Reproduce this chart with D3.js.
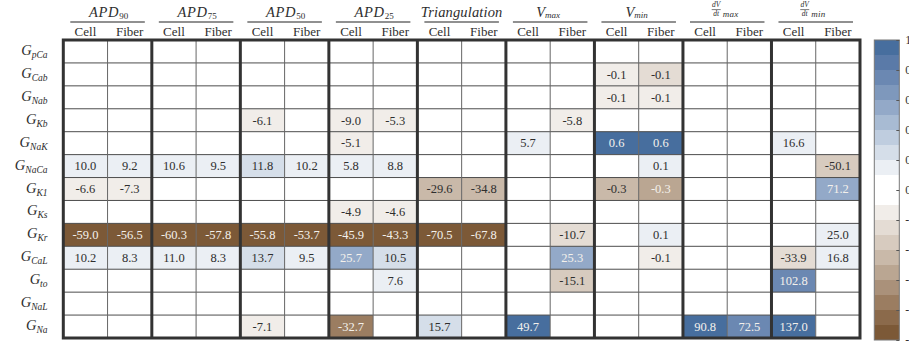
<!DOCTYPE html>
<html>
<head>
<meta charset="utf-8">
<script src="https://cdn.jsdelivr.net/npm/d3@7"></script>
<style>
  html, body { margin: 0; padding: 0; background: #fff; overflow: hidden; }
  svg { display: block; }
</style>
</head>
<body>
<svg id="chart" width="909" height="347"></svg>
<script>
// Conductances (rows, top to bottom)
const rows = ["pCa", "Cab", "Nab", "Kb", "NaK", "NaCa", "K1", "Ks", "Kr", "CaL", "to", "NaL", "Na"];
// Biomarker groups (column pairs, left to right)
const groups = ["APD90", "APD75", "APD50", "APD25", "Triangulation", "Vmax", "Vmin", "dVdtMax", "dVdtMin"];
const kinds = ["Cell", "Fiber"];

// Sensitivity values (%), one entry per row; null = not significant
//                 pCa   Cab   Nab   Kb    NaK   NaCa  K1    Ks    Kr     CaL   to    NaL   Na
const apd90Cell  = [null, null, null, null, null, 10.0, -6.6, null, -59.0, 10.2, null, null, null];
const apd90Fiber = [null, null, null, null, null, 9.2, -7.3, null, -56.5, 8.3, null, null, null];
const apd75Cell  = [null, null, null, null, null, 10.6, null, null, -60.3, 11.0, null, null, null];
const apd75Fiber = [null, null, null, null, null, 9.5, null, null, -57.8, 8.3, null, null, null];
const apd50Cell  = [null, null, null, -6.1, null, 11.8, null, null, -55.8, 13.7, null, null, -7.1];
const apd50Fiber = [null, null, null, null, null, 10.2, null, null, -53.7, 9.5, null, null, null];
const apd25Cell  = [null, null, null, -9.0, -5.1, 5.8, null, -4.9, -45.9, 25.7, null, null, -32.7];
const apd25Fiber = [null, null, null, -5.3, null, 8.8, null, -4.6, -43.3, 10.5, 7.6, null, null];
const triCell    = [null, null, null, null, null, null, -29.6, null, -70.5, null, null, null, 15.7];
const triFiber   = [null, null, null, null, null, null, -34.8, null, -67.8, null, null, null, null];
const vmaxCell   = [null, null, null, null, 5.7, null, null, null, null, null, null, null, 49.7];
const vmaxFiber  = [null, null, null, -5.8, null, null, null, null, -10.7, 25.3, -15.1, null, null];
const vminCell   = [null, -0.1, -0.1, null, 0.6, null, -0.29, null, null, null, null, null, null];
const vminFiber  = [null, -0.13, -0.1, null, 0.6, 0.1, -0.31, null, 0.1, -0.1, null, null, null];
const dvMaxCell  = [null, null, null, null, null, null, null, null, null, null, null, null, 90.8];
const dvMaxFiber = [null, null, null, null, null, null, null, null, null, null, null, null, 72.5];
const dvMinCell  = [null, null, null, null, 16.6, null, null, null, null, -33.9, 102.8, null, 137.0];
const dvMinFiber = [null, null, null, null, null, -50.1, 71.2, null, 25.0, 16.8, null, null, null];

const groupValues = [
  [apd90Cell, apd90Fiber], [apd75Cell, apd75Fiber], [apd50Cell, apd50Fiber],
  [apd25Cell, apd25Fiber], [triCell, triFiber], [vmaxCell, vmaxFiber],
  [vminCell, vminFiber], [dvMaxCell, dvMaxFiber], [dvMinCell, dvMinFiber]
];

// Colour bar tick labels
const cbTicks = [1, 0.8, 0.6, 0.4, 0.2, 0, -0.2, -0.4, -0.6, -0.8, -1];

// Discrete diverging palette: 9 browns (dark -> light), white, 9 blues (light -> dark)
const browns = ["#7c5937", "#8b6a4b", "#9b7d61", "#aa917a", "#baa692", "#c9b9a9", "#d7cbbf", "#e4dcd4", "#f1ede9"];
const blues  = ["#ebeff4", "#d5dee9", "#bfcddf", "#a8bbd3", "#93a9c8", "#7e98bc", "#6b88b2", "#5a7aa8", "#476e9e"];
const color = d3.scaleThreshold()
  .domain([-0.9, -0.8, -0.7, -0.6, -0.5, -0.4, -0.3, -0.2, -0.1, 0.1, 0.2, 0.3, 0.4, 0.5, 0.6, 0.7, 0.8, 0.9])
  .range([...browns, "#ffffff", ...blues]);

const SERIF = "Liberation Serif";
const INK = "#2e2e2e";

// Flatten to cells, normalising each biomarker group by its largest magnitude
const cells = [];
groupValues.forEach((pair, g) => {
  const maxAbs = d3.max(pair.flat(), v => v == null ? 0 : Math.abs(v));
  pair.forEach((arr, k) => {
    arr.forEach((v, r) => {
      cells.push({ col: g * 2 + k, row: rows[r], value: v, norm: v == null ? 0 : v / maxAbs });
    });
  });
});

const svg = d3.select("#chart");
const tblLeft = 63.3, tblRight = 860, tblTop = 40, tblBottom = 338;

const x = d3.scaleBand().domain(d3.range(groups.length * 2)).range([tblLeft, tblRight]);
const y = d3.scaleBand().domain(rows).range([tblTop, tblBottom]);

// Heatmap cells
svg.append("g").selectAll("rect").data(cells).join("rect")
  .attr("x", d => x(d.col))
  .attr("y", d => y(d.row))
  .attr("width", x.bandwidth())
  .attr("height", y.bandwidth())
  .attr("fill", d => d.value == null ? "#ffffff" : color(d.norm));

// Value labels
svg.append("g").selectAll("text").data(cells.filter(d => d.value != null)).join("text")
  .attr("x", d => x(d.col) + x.bandwidth() / 2)
  .attr("y", d => y(d.row) + y.bandwidth() / 2 + 4.3)
  .attr("text-anchor", "middle")
  .attr("font-family", SERIF)
  .attr("font-size", 12.5)
  .attr("fill", d => Math.abs(d.norm) > 0.5 ? "#f4f1ec" : INK)
  .text(d => d.value.toFixed(1));

// Thin grid lines
const grid = svg.append("g").attr("stroke", "#4d4d4d").attr("stroke-width", 1);
grid.selectAll("line.h").data(rows.slice(1)).join("line")
  .attr("class", "h")
  .attr("x1", tblLeft).attr("x2", tblRight)
  .attr("y1", d => y(d)).attr("y2", d => y(d));
grid.selectAll("line.v").data(groups.map((g, i) => i * 2 + 1)).join("line")
  .attr("class", "v")
  .attr("y1", tblTop).attr("y2", tblBottom)
  .attr("x1", d => x(d)).attr("x2", d => x(d))
  .attr("stroke", "#666");

// Thick group separators and frame
const frame = svg.append("g").attr("stroke", "#333").attr("stroke-width", 3).attr("fill", "none");
frame.selectAll("line").data(d3.range(1, groups.length)).join("line")
  .attr("y1", tblTop).attr("y2", tblBottom)
  .attr("x1", d => x(d * 2)).attr("x2", d => x(d * 2));
frame.append("rect")
  .attr("x", tblLeft).attr("y", tblTop)
  .attr("width", tblRight - tblLeft).attr("height", tblBottom - tblTop);

// Row labels: G with italic subscripts
svg.append("g").selectAll("text").data(rows).join("text")
  .attr("x", 47.5)
  .attr("y", d => y(d) + y.bandwidth() / 2 + 3.5)
  .attr("text-anchor", "end")
  .attr("font-family", SERIF)
  .attr("font-style", "italic")
  .attr("fill", INK)
  .each(function (d) {
    const t = d3.select(this);
    t.append("tspan").attr("font-size", 14.5).text("G");
    t.append("tspan").attr("font-size", 9.5).attr("dy", 3).text(d);
  });

// Column headers
const header = svg.append("g").attr("fill", INK).attr("font-family", SERIF);
groups.forEach((g, i) => {
  const x0 = x(i * 2), x1 = x(i * 2 + 1) + x.bandwidth();
  const gc = (x0 + x1) / 2;

  header.append("line")
    .attr("x1", x0 + 7).attr("x2", x1 - 7)
    .attr("y1", 22).attr("y2", 22)
    .attr("stroke", "#222").attr("stroke-width", 1.1);

  kinds.forEach((k, j) => {
    header.append("text")
      .attr("x", x(i * 2 + j) + x.bandwidth() / 2)
      .attr("y", 35.5)
      .attr("text-anchor", "middle")
      .attr("font-size", 13)
      .text(k);
  });

  if (g.startsWith("APD")) {
    const t = header.append("text").attr("x", gc + 1).attr("y", 16.5).attr("text-anchor", "middle");
    t.append("tspan").attr("font-style", "italic").attr("font-size", 14.5).attr("letter-spacing", 0.7).text("APD");
    t.append("tspan").attr("font-size", 9).attr("dy", 2.5).text(g.slice(3));
  } else if (g === "Triangulation") {
    header.append("text").attr("x", gc).attr("y", 16.5).attr("text-anchor", "middle")
      .attr("font-style", "italic").attr("font-size", 14.5).attr("letter-spacing", 0.15)
      .text("Triangulation");
  } else if (g === "Vmax" || g === "Vmin") {
    const t = header.append("text").attr("x", gc - 2).attr("y", 16.5).attr("text-anchor", "middle")
      .attr("font-style", "italic");
    t.append("tspan").attr("font-size", 14.5).text("V");
    t.append("tspan").attr("font-size", 9).attr("dy", 1.5).text(g.slice(1));
  } else {
    // dV/dt fraction with max/min subscript
    const fc = gc - 11;
    header.append("text").attr("x", fc).attr("y", 7.4).attr("text-anchor", "middle")
      .attr("font-style", "italic").attr("font-size", 7.5).text("dV");
    header.append("line").attr("x1", fc - 4.5).attr("x2", fc + 4.5)
      .attr("y1", 9.6).attr("y2", 9.6).attr("stroke", "#222").attr("stroke-width", 0.6);
    header.append("text").attr("x", fc).attr("y", 16).attr("text-anchor", "middle")
      .attr("font-style", "italic").attr("font-size", 7.5).text("dt");
    header.append("text").attr("x", gc - 4.5).attr("y", 17.2)
      .attr("font-style", "italic").attr("font-size", 9).attr("letter-spacing", 0.3)
      .text(g === "dVdtMax" ? "max" : "min");
  }
});

// Colour bar
const cbX = 874.3, cbW = 25;
const cb = d3.scaleLinear().domain([-1, 1]).range([340, 40]);
const bands = d3.range(20).map(i => -1 + i * 0.1);
svg.append("g").selectAll("rect").data(bands).join("rect")
  .attr("x", cbX)
  .attr("y", d => cb(d + 0.1))
  .attr("width", cbW)
  .attr("height", d => cb(d) - cb(d + 0.1))
  .attr("fill", d => color(d + 0.05));
svg.append("rect")
  .attr("x", cbX).attr("y", cb(1))
  .attr("width", cbW).attr("height", cb(-1) - cb(1))
  .attr("fill", "none").attr("stroke", "#777").attr("stroke-width", 1);

const cbAxis = svg.append("g")
  .attr("transform", `translate(${cbX + cbW},0)`)
  .call(d3.axisRight(cb)
    .tickValues(cbTicks)
    .tickSizeInner(-3)
    .tickSizeOuter(0)
    .tickPadding(6)
    .tickFormat(d => String(Math.round(d * 10) / 10)));
cbAxis.attr("font-family", SERIF).attr("font-size", 12);
cbAxis.select(".domain").remove();
cbAxis.selectAll("line").attr("stroke", "#555");
cbAxis.selectAll("text").attr("fill", "#333");
</script>
</body>
</html>
